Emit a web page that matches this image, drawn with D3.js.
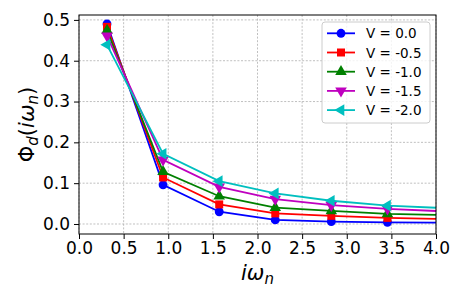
<!DOCTYPE html>
<html><head><meta charset="utf-8">
<script src="https://cdn.jsdelivr.net/npm/d3@7"></script>
<style>body{margin:0;background:#fff}svg{display:block}text{font-family:"DejaVu Sans",sans-serif}</style>
</head><body>
<script>
const xValues = [0.314, 0.942, 1.571, 2.199, 2.827, 3.456, 4.084];
const seriesNames = ["V = 0.0", "V = -0.5", "V = -1.0", "V = -1.5", "V = -2.0"];
const v00 = [0.490, 0.096, 0.030, 0.010, 0.006, 0.004, 0.003];
const v05 = [0.483, 0.114, 0.048, 0.026, 0.020, 0.015, 0.012];
const v10 = [0.474, 0.128, 0.068, 0.040, 0.032, 0.025, 0.022];
const v15 = [0.461, 0.157, 0.091, 0.061, 0.046, 0.037, 0.031];
const v20 = [0.439, 0.172, 0.105, 0.075, 0.057, 0.045, 0.039];
const seriesValues = [v00, v05, v10, v15, v20];
const colors = ["#0000ff", "#ff0000", "#008000", "#bf00bf", "#00bfbf"];
const markers = ["circle", "square", "tri-up", "tri-down", "tri-left"];
const xTicks = [0, 0.5, 1, 1.5, 2, 2.5, 3, 3.5, 4];
const yTicks = [0, 0.1, 0.2, 0.3, 0.4, 0.5];

const W = 463, H = 300;
const m = {l: 79, r: 436, t: 15, b: 234};
const svg = d3.select("body").append("svg").attr("width", W).attr("height", H);
const x = d3.scaleLinear().domain([0, 4]).range([m.l, m.r]);
const y = d3.scaleLinear().domain([-0.0245, 0.512]).range([m.b, m.t]);

svg.append("defs").append("clipPath").attr("id", "clip")
  .append("rect").attr("x", m.l).attr("y", m.t).attr("width", m.r - m.l).attr("height", m.b - m.t);

// grid
const grid = svg.append("g");
grid.selectAll(".gx").data(xTicks).join("line")
  .attr("x1", d => x(d)).attr("x2", d => x(d)).attr("y1", m.t).attr("y2", m.b)
  .attr("stroke", "#b0b0b0").attr("stroke-width", 0.8).attr("stroke-dasharray", "2,1.6");
grid.selectAll(".gy").data(yTicks).join("line")
  .attr("y1", d => y(d)).attr("y2", d => y(d)).attr("x1", m.l).attr("x2", m.r)
  .attr("stroke", "#b0b0b0").attr("stroke-width", 0.8).attr("stroke-dasharray", "2,1.6");

function markerPath(kind, size) {
  if (kind === "circle") return d3.symbol(d3.symbolCircle, size)();
  if (kind === "square") return d3.symbol(d3.symbolSquare, size)();
  return d3.symbol(d3.symbolTriangle, size)();
}
function markerRot(kind) {
  return kind === "tri-down" ? 180 : kind === "tri-left" ? -90 : 0;
}

const plot = svg.append("g").attr("clip-path", "url(#clip)");
const line = d3.line().x((d, i) => x(xValues[i])).y(d => y(d));
seriesValues.forEach((vals, k) => {
  const g = plot.append("g");
  g.append("path").datum(vals).attr("d", line).attr("fill", "none")
    .attr("stroke", colors[k]).attr("stroke-width", 1.8);
  g.selectAll("path.mk").data(vals).join("path").attr("class", "mk")
    .attr("d", markerPath(markers[k], markers[k] === "circle" ? 62 : markers[k] === "square" ? 64 : 58))
    .attr("transform", (d, i) => `translate(${x(xValues[i])},${y(d)}) rotate(${markerRot(markers[k])})`)
    .attr("fill", colors[k]);
});

// axes frame
svg.append("rect").attr("x", m.l).attr("y", m.t).attr("width", m.r - m.l).attr("height", m.b - m.t)
  .attr("fill", "none").attr("stroke", "#000").attr("stroke-width", 1);

const xAxis = svg.append("g").attr("transform", `translate(0,${m.b})`)
  .call(d3.axisBottom(x).tickValues(xTicks).tickFormat(d3.format(".1f")).tickSize(5).tickSizeOuter(0).tickPadding(3));
const yAxis = svg.append("g").attr("transform", `translate(${m.l},0)`)
  .call(d3.axisLeft(y).tickValues(yTicks).tickFormat(d3.format(".1f")).tickSize(5).tickSizeOuter(0).tickPadding(4));
[xAxis, yAxis].forEach(a => {
  a.select(".domain").remove();
  a.selectAll("text").attr("font-size", 17).attr("font-family", "DejaVu Sans").attr("fill", "#000");
  a.selectAll("line").attr("stroke", "#000");
});

// axis labels
const xl = svg.append("text").attr("x", (m.l + m.r) / 2).attr("y", 280)
  .attr("text-anchor", "middle").attr("font-size", 21);
xl.append("tspan").attr("font-style", "italic").text("iω");
xl.append("tspan").attr("font-style", "italic").attr("font-size", 15).attr("dy", 4).text("n");

const yl = svg.append("text").attr("transform", `translate(34,${(m.t + m.b) / 2}) rotate(-90)`)
  .attr("text-anchor", "middle").attr("font-size", 21);
yl.append("tspan").text("Φ");
yl.append("tspan").attr("font-style", "italic").attr("font-size", 15).attr("dy", 4).text("d");
yl.append("tspan").attr("dy", -4).text("(");
yl.append("tspan").attr("font-style", "italic").text("iω");
yl.append("tspan").attr("font-style", "italic").attr("font-size", 15).attr("dy", 4).text("n");
yl.append("tspan").attr("dy", -4).text(")");

// legend
const lg = svg.append("g");
lg.append("rect").attr("x", 322).attr("y", 22).attr("width", 108).attr("height", 101)
  .attr("rx", 3).attr("fill", "#fff").attr("fill-opacity", 0.8)
  .attr("stroke", "#cccccc").attr("stroke-width", 1);
seriesNames.forEach((name, k) => {
  const yy = 33.3 + k * 19.2;
  lg.append("line").attr("x1", 327).attr("x2", 355).attr("y1", yy).attr("y2", yy)
    .attr("stroke", colors[k]).attr("stroke-width", 1.8);
  lg.append("path").attr("d", markerPath(markers[k], markers[k] === "circle" ? 62 : markers[k] === "square" ? 64 : 58))
    .attr("transform", `translate(341,${yy}) rotate(${markerRot(markers[k])})`).attr("fill", colors[k]);
  lg.append("text").attr("x", 366).attr("y", yy + 5).attr("font-size", 13.5).text(name);
});
</script>
</body></html>
